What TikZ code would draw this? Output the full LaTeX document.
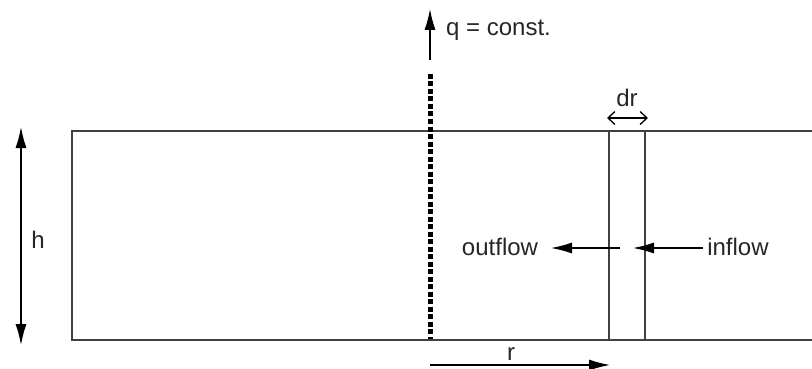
\documentclass[tikz,border=0pt]{standalone}
\usepackage{fontspec}
\setmainfont{Liberation Sans}
\usetikzlibrary{arrows.meta}
\begin{document}
\begin{tikzpicture}[x=1pt,y=-1pt,
  lbl/.style={inner sep=0pt,font=\fontsize{24}{28}\selectfont,text=black!85},
  thinline/.style={line width=1.5pt,draw=black!75},
  arr/.style={line width=1.3pt,-{Latex[length=21,width=11]}},
  darr/.style={line width=1.3pt,{Latex[length=21,width=11]}-{Latex[length=21,width=11]}},
  openarr/.style={line width=1.3pt,{Straight Barb[length=7,width=13]}-{Straight Barb[length=7,width=13]}}]
\useasboundingbox (0,0) rectangle (812,369);
% box (open on the right)
\coordinate (tr) at (812,131);
\coordinate (tl) at (72,131);
\coordinate (bl) at (72,340);
\coordinate (br) at (812,340);
\draw[thinline] (tr) -- (tl) -- (bl) -- (br);
% dr strip
\coordinate (s1t) at (609,131);
\coordinate (s1b) at (609,340);
\coordinate (s2t) at (645,131);
\coordinate (s2b) at (645,340);
\draw[thinline] (s1t) -- (s1b);
\draw[thinline] (s2t) -- (s2b);
% well (dotted)
\coordinate (wt) at (430,74);
\coordinate (wb) at (430,339);
\draw[line width=5pt,dash pattern=on 5pt off 2.5pt] (wt) -- (wb);
% q arrow
\coordinate (q0) at (430,60);
\coordinate (q1) at (430,9);
\draw[arr] (q0) -- (q1);
\node[lbl,anchor=west] (q) at (446,30) {q = const.};
% h
\coordinate (h0) at (21,127);
\coordinate (h1) at (21,345);
\draw[darr] (h0) -- (h1);
\node[lbl] (h) at (38,240) {h};
% dr
\coordinate (d0) at (607,118);
\coordinate (d1) at (648,118);
\draw[openarr] (d0) -- (d1);
\node[lbl] (dr) at (627,98) {dr};
% flows
\node[lbl] (out) at (500,247) {outflow};
\node[lbl] (in) at (738,247) {inflow};
\coordinate (o0) at (620,248);
\coordinate (o1) at (551,248);
\coordinate (i0) at (703,248);
\coordinate (i1) at (633,248);
\draw[arr] (o0) -- (o1);
\draw[arr] (i0) -- (i1);
% r
\coordinate (r0) at (430,365);
\coordinate (r1) at (610,365);
\draw[arr] (r0) -- (r1);
\node[lbl] (r) at (511,354) {r};
\end{tikzpicture}
\end{document}
